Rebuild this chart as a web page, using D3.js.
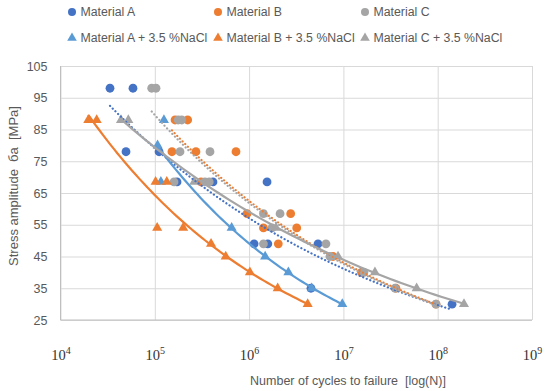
<!DOCTYPE html>
<html>
<head>
<meta charset="utf-8">
<script src="https://cdn.jsdelivr.net/npm/d3@7"></script>
<style>
  body { margin: 0; background: #fff; }
  text { font-family: "Liberation Sans", Arial, sans-serif; fill: #595959; white-space: pre; }
</style>
</head>
<body>
<div id="mainDiv"></div>
<script>
// Cycles to failure (N) and stress amplitude (MPa)
const aN = [3.35e4, 5.87e4, 4.95e4, 1.11e5, 1.72e5, 4.14e5, 1.55e6, 1.13e6, 1.58e6, 5.38e6, 4.53e6, 1.57e7, 1.42e8];
const aS = [98, 98, 78, 78, 68.5, 68.5, 68.5, 49, 49, 49, 35, 40, 30];

const bN = [1.64e5, 2.23e5, 1.52e5, 2.73e5, 7.26e5, 3.09e5, 9.5e5, 2.76e6, 1.42e6, 3.2e6, 2.04e6, 7.77e6, 1.57e7, 3.61e7, 9.6e7];
const bS = [88, 88, 78, 78, 78, 68.5, 58.5, 58.5, 54, 54, 49, 45, 40, 35, 30];

const cN = [9.27e4, 1.03e5, 1.77e5, 1.93e5, 1.85e5, 3.85e5, 1.6e5, 3.4e5, 3.78e5, 1.42e6, 2.13e6, 1.75e6, 1.42e6, 6.53e6, 7.2e6, 1.65e7, 3.52e7, 9.6e7];
const cS = [98, 98, 88, 88, 78, 78, 68.5, 68.5, 68.5, 58.5, 58.5, 54, 49, 49, 45, 40, 35, 30];

const aNaClN = [1.25e5, 1.07e5, 1.16e5, 6.53e5, 1.48e6, 2.61e6, 4.61e6, 9.73e6];
const aNaClS = [88, 80, 68.5, 54, 45, 40, 35, 30];

const bNaClN = [1.97e4, 2.42e4, 1.02e5, 1.34e5, 1.06e5, 2.0e5, 3.95e5, 5.65e5, 1.02e6, 2.01e6, 4.18e6];
const bNaClS = [88, 88, 68.5, 68.5, 54, 54, 49, 45, 40, 35, 30];

const cNaClN = [4.38e4, 5.24e4, 2.62e5, 1.93e6, 8.77e6, 2.16e7, 5.98e7, 1.9e8];
const cNaClS = [88, 88, 68.5, 54, 45, 40, 35, 30];

const xTicks = [1e4, 1e5, 1e6, 1e7, 1e8, 1e9];
const yTicks = [25, 35, 45, 55, 65, 75, 85, 95, 105];

const series = [
  {name: "Material A", n: aN, s: aS, color: "#4472C4", shape: "circle", trend: "dot"},
  {name: "Material B", n: bN, s: bS, color: "#ED7D31", shape: "circle", trend: "dot"},
  {name: "Material C", n: cN, s: cS, color: "#A5A5A5", shape: "circle", trend: "dot"},
  {name: "Material A + 3.5 %NaCl", n: aNaClN, s: aNaClS, color: "#5B9BD5", shape: "triangle", trend: "solid"},
  {name: "Material B + 3.5 %NaCl", n: bNaClN, s: bNaClS, color: "#ED7D31", shape: "triangle", trend: "solid"},
  {name: "Material C + 3.5 %NaCl", n: cNaClN, s: cNaClS, color: "#A5A5A5", shape: "triangle", trend: "solid"}
];

const width = 550, height = 391;
const plot = {left: 60.5, right: 532, top: 66, bottom: 320};

let svg = d3.select("#mainDiv").append("svg")
  .attr("width", width)
  .attr("height", height);

let x = d3.scaleLog().domain([1e4, 1e9]).range([plot.left, plot.right]);
let y = d3.scaleLinear().domain([25, 105]).range([plot.bottom, plot.top]);

// Gridlines + y labels
let yAxis = svg.append("g")
  .attr("transform", "translate(" + plot.left + ",0)")
  .call(d3.axisLeft(y).tickValues(yTicks).tickSize(-(plot.right - plot.left)).tickPadding(13));
yAxis.select(".domain").remove();
yAxis.selectAll("line").attr("stroke", "#d9d9d9").attr("stroke-width", 1);
yAxis.selectAll("text").style("font-size", "12.5px").attr("fill", "#595959");

let xAxis = svg.append("g")
  .attr("transform", "translate(0," + plot.bottom + ")")
  .call(d3.axisBottom(x).tickValues(xTicks).tickSize(-(plot.bottom - plot.top)).tickFormat(""));
xAxis.select(".domain").remove();
xAxis.selectAll("line").attr("stroke", "#d9d9d9").attr("stroke-width", 1);

// x tick labels as 10 with superscript exponent
xAxis.selectAll(".tick").append("text")
  .attr("y", 40)
  .attr("text-anchor", "middle")
  .style("font-family", "'Liberation Serif', 'Times New Roman', serif")
  .style("font-size", "14.5px")
  .style("fill", "#333")
  .each(function(d) {
    let t = d3.select(this);
    t.append("tspan").text("10");
    t.append("tspan").attr("dy", -6).style("font-size", "10px").text(Math.round(Math.log10(d)));
  });

// axis lines
svg.append("line").attr("x1", plot.left).attr("x2", plot.left)
  .attr("y1", plot.top).attr("y2", plot.bottom).attr("stroke", "#bfbfbf");
svg.append("line").attr("x1", plot.left).attr("x2", plot.right)
  .attr("y1", plot.bottom).attr("y2", plot.bottom).attr("stroke", "#bfbfbf");

// Markers
let tri = d3.symbol().type(d3.symbolTriangle).size(44);
series.forEach(function(sr) {
  let pts = sr.n.map(function(n, i) { return [n, sr.s[i]]; });
  let g = svg.append("g");
  if (sr.shape === "circle") {
    g.selectAll("circle").data(pts).enter().append("circle")
      .attr("cx", function(d) { return x(d[0]); })
      .attr("cy", function(d) { return y(d[1]); })
      .attr("r", 4.4)
      .attr("fill", sr.color);
  } else {
    g.selectAll("path").data(pts).enter().append("path")
      .attr("d", tri)
      .attr("transform", function(d) { return "translate(" + x(d[0]) + "," + y(d[1]) + ")"; })
      .attr("fill", sr.color);
  }
});

// Power trendlines S = a * N^b (least squares on logs)
function powerFit(ns, ss) {
  let u = ns.map(Math.log), v = ss.map(Math.log);
  let mu = d3.mean(u), mv = d3.mean(v);
  let sxy = d3.sum(u, function(d, i) { return (d - mu) * (v[i] - mv); });
  let sxx = d3.sum(u, function(d) { return (d - mu) * (d - mu); });
  let b = sxy / sxx;
  let a = Math.exp(mv - b * mu);
  return function(n) { return a * Math.pow(n, b); };
}

let line = d3.line().x(function(d) { return x(d[0]); }).y(function(d) { return y(d[1]); });
series.forEach(function(sr) {
  let f = powerFit(sr.n, sr.s);
  let lo = Math.log10(d3.min(sr.n)), hi = Math.log10(d3.max(sr.n));
  let curve = d3.range(0, 61).map(function(i) {
    let n = Math.pow(10, lo + (hi - lo) * i / 60);
    return [n, f(n)];
  });
  let p = svg.append("path")
    .attr("d", line(curve))
    .attr("fill", "none")
    .attr("stroke", sr.color);
  if (sr.trend === "dot") {
    p.attr("stroke-width", 2.2).attr("stroke-linecap", "round").attr("stroke-dasharray", "0.1 3.7");
  } else {
    p.attr("stroke-width", 2.2);
  }
});

// Legend
let legX = [72, 218, 365], legY = [12, 38];
series.forEach(function(sr, i) {
  let lx = legX[i % 3], ly = legY[Math.floor(i / 3)];
  let g = svg.append("g").attr("transform", "translate(" + lx + "," + ly + ")");
  if (sr.shape === "circle") {
    g.append("circle").attr("r", 4).attr("fill", sr.color);
  } else {
    g.append("path").attr("d", d3.symbol().type(d3.symbolTriangle).size(40)).attr("fill", sr.color);
  }
  g.append("text").attr("x", 8.5).attr("dy", "0.35em")
    .style("font-size", "12.3px").text(sr.name);
});

// Axis titles
svg.append("text")
  .attr("x", 348).attr("y", 385)
  .attr("text-anchor", "middle")
  .style("font-size", "12.5px")
  .text("Number of cycles to failure  [log(N)]");

svg.append("text")
  .attr("transform", "translate(18,186) rotate(-90)")
  .attr("text-anchor", "middle")
  .style("font-size", "13px")
  .text("Stress amplitude  бa  [MPa]");
</script>
</body>
</html>
